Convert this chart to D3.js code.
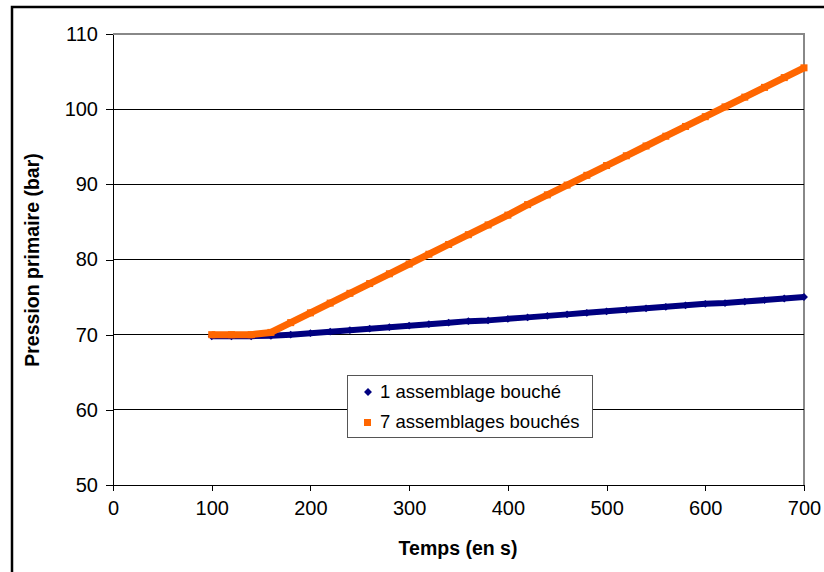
<!DOCTYPE html>
<meta charset="utf-8">
<style>
body { margin: 0; background: #fff; }
svg { font-family: "Liberation Sans", Arial, sans-serif; }
.axis path, .axis line { stroke: #000; shape-rendering: crispEdges; }
.axis text { font-size: 20px; fill: #000; }
.grid line { stroke: #000; shape-rendering: crispEdges; }
.label { font-size: 19.5px; font-weight: bold; }
</style>
<body></body>
<script src="https://cdnjs.cloudflare.com/ajax/libs/d3/7.8.5/d3.min.js"></script>
<script>
// temps (s)
var temps = [100,120,140,160,180,200,220,240,260,280,300,320,340,360,380,400,
             420,440,460,480,500,520,540,560,580,600,620,640,660,680,700];
// 1 assemblage bouché
var serie1 = [70,70,70,70.05,70.2,70.4,70.6,70.8,71.0,71.2,71.4,71.6,71.8,72.0,72.1,72.3,
              72.5,72.7,72.9,73.1,73.3,73.5,73.7,73.9,74.1,74.3,74.4,74.6,74.8,75.0,75.2];
// 7 assemblages bouchés
var serie7 = [70,70,70,70.3,71.6,72.9,74.2,75.5,76.8,78.1,79.4,80.7,82.0,83.3,84.6,85.9,
              87.3,88.6,89.9,91.2,92.5,93.8,95.1,96.4,97.7,99.0,100.3,101.6,102.9,104.2,105.5];
var xTicks = [0,100,200,300,400,500,600,700];
var yTicks = [50,60,70,80,90,100,110];
var noms = ["1 assemblage bouché", "7 assemblages bouchés"];

var W = 824, H = 572;
var pL = 113, pR = 804, pT = 34, pB = 485;

var svg = d3.select("body").append("svg")
    .attr("width", W).attr("height", H);

// cadre extérieur
svg.append("rect")
    .attr("x", 12).attr("y", 7)
    .attr("width", 830).attr("height", 600)
    .attr("fill", "#fff").attr("stroke", "#000").attr("stroke-width", 2.5);

var x = d3.scaleLinear().domain([0, 700]).range([pL, pR]);
var y = d3.scaleLinear().domain([50, 110]).range([pB, pT]);

// bord de la zone de tracé
svg.append("path")
    .attr("d", "M" + pL + "," + pT + "H" + pR + "V" + pB)
    .attr("fill", "none").attr("stroke", "#888").attr("stroke-width", 1.5)
    .attr("shape-rendering", "crispEdges");

// quadrillage
svg.append("g").attr("class", "grid")
  .selectAll("line")
  .data(yTicks.filter(function(d) { return d > 50 && d < 110; }))
  .enter().append("line")
    .attr("x1", pL).attr("x2", pR)
    .attr("y1", function(d) { return y(d); })
    .attr("y2", function(d) { return y(d); });

var xAxis = d3.axisBottom(x).tickValues(xTicks).tickSizeInner(6).tickSizeOuter(0).tickPadding(10);
var yAxis = d3.axisLeft(y).tickValues(yTicks).tickSizeInner(7).tickSizeOuter(0).tickPadding(8);

svg.append("g").attr("class", "axis")
    .attr("transform", "translate(0," + pB + ")")
    .call(xAxis);
svg.append("g").attr("class", "axis")
    .attr("transform", "translate(" + pL + ",0)")
    .call(yAxis);

var line = function(vals) {
  return d3.line()
    .x(function(d, i) { return x(temps[i]); })
    .y(function(d) { return y(d); })(vals);
};

// séries
svg.append("path")
    .attr("d", line(serie1))
    .attr("transform", "translate(0,1.5)")
    .attr("fill", "none").attr("stroke", "#000080").attr("stroke-width", 6)
    .attr("stroke-linejoin", "round");
svg.selectAll(".m1").data(serie1).enter().append("path")
    .attr("class", "m1")
    .attr("d", d3.symbol().type(d3.symbolDiamond2).size(40))
    .attr("transform", function(d, i) { return "translate(" + x(temps[i]) + "," + (y(d) + 1.5) + ")"; })
    .attr("fill", "#000080");

svg.append("path")
    .attr("d", line(serie7))
    .attr("fill", "none").attr("stroke", "#ff6600").attr("stroke-width", 7)
    .attr("stroke-linejoin", "round");
svg.selectAll(".m7").data(serie7).enter().append("rect")
    .attr("class", "m7")
    .attr("x", function(d, i) { return x(temps[i]) - 3.5; })
    .attr("y", function(d) { return y(d) - 3.5; })
    .attr("width", 7).attr("height", 7)
    .attr("fill", "#ff6600");

// titres des axes
svg.append("text").attr("class", "label")
    .attr("x", 458).attr("y", 555)
    .attr("text-anchor", "middle")
    .text("Temps (en s)");
svg.append("text").attr("class", "label")
    .attr("transform", "translate(39," + 260 + ") rotate(-90)")
    .attr("text-anchor", "middle")
    .text("Pression primaire (bar)");

// légende
var lg = svg.append("g").attr("transform", "translate(347,375)");
lg.append("rect")
    .attr("width", 245).attr("height", 62)
    .attr("fill", "#fff").attr("stroke", "#555").attr("stroke-width", 1)
    .attr("shape-rendering", "crispEdges");
lg.append("path")
    .attr("d", d3.symbol().type(d3.symbolDiamond2).size(40))
    .attr("transform", "translate(21,17)")
    .attr("fill", "#000080");
lg.append("rect")
    .attr("x", 17).attr("y", 44).attr("width", 7).attr("height", 7)
    .attr("fill", "#ff6600");
lg.selectAll("text").data(noms).enter().append("text")
    .attr("x", 33)
    .attr("y", function(d, i) { return 23 + i * 30; })
    .attr("font-size", "18.5px")
    .text(function(d) { return d; });
</script>
